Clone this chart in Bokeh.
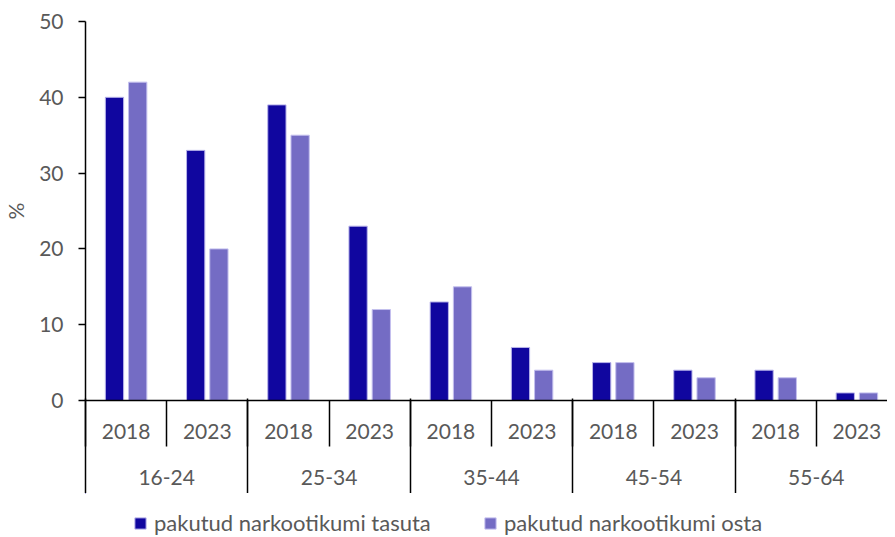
from bokeh.plotting import figure
from bokeh.layouts import column
from bokeh.models import ColumnDataSource, Range1d, FixedTicker, LinearAxis, Legend, LegendItem
from bokeh.transform import dodge
from bokeh.embed import file_html
from bokeh.resources import INLINE

# ---- data ----
age_groups = ["16-24", "25-34", "35-44", "45-54", "55-64"]
years = ["2018", "2023"]
free_offer = [40, 33, 39, 23, 13, 7, 5, 4, 4, 1]   # pakutud narkootikumi tasuta
buy_offer = [42, 20, 35, 12, 15, 4, 5, 3, 3, 1]    # pakutud narkootikumi osta
y_ticks = [0, 10, 20, 30, 40, 50]
series_names = ["pakutud narkootikumi tasuta", "pakutud narkootikumi osta"]

n_years = len(years)
n_slots = len(age_groups) * n_years
slot_x = [i + 0.5 for i in range(n_slots)]
year_labels = [years[i % n_years] for i in range(n_slots)]
group_x = [g * n_years + n_years / 2 for g in range(len(age_groups))]

src = ColumnDataSource(dict(x=slot_x, free=free_offer, buy=buy_offer))

FONT = "Lato"
GREY = "#595959"
DARK = "#10069F"
LIGHT = "#746CC4"
FS = "21px"
BAR_W = 0.225
OFF = 0.143

p = figure(width=887, height=493, output_backend="svg", toolbar_location=None,
           x_range=Range1d(0, 9.877), y_range=Range1d(0, 50),
           x_axis_type=None, min_border_left=83, min_border_right=0,
           min_border_top=21, min_border_bottom=93)
p.outline_line_color = None
p.grid.grid_line_color = None
p.background_fill_color = "white"

r1 = p.vbar(x=dodge("x", -OFF), top="free", width=BAR_W, source=src,
            fill_color=DARK, line_color="#B8B4EA", line_width=1)
r2 = p.vbar(x=dodge("x", OFF), top="buy", width=BAR_W, source=src,
            fill_color=LIGHT, line_color="#C4C0EE", line_width=1)

# y axis
ya = p.yaxis[0]
ya.ticker = FixedTicker(ticks=y_ticks, minor_ticks=[])
ya.axis_line_color = "black"
ya.axis_line_width = 1.5
ya.major_tick_line_color = "black"
ya.major_tick_line_width = 1.5
ya.major_tick_out = 7
ya.major_tick_in = 0
ya.minor_tick_line_color = None
ya.major_label_standoff = 15
ya.major_label_text_font = FONT
ya.major_label_text_font_size = FS
ya.major_label_text_color = GREY
ya.axis_label = "%"
ya.axis_label_text_font = FONT
ya.axis_label_text_font_size = FS
ya.axis_label_text_font_style = "normal"
ya.axis_label_text_color = GREY
ya.axis_label_standoff = 8

# x axis: years
xa1 = LinearAxis(ticker=FixedTicker(ticks=slot_x, minor_ticks=list(range(n_slots + 1))),
                 major_label_overrides={x: lab for x, lab in zip(slot_x, year_labels)})
xa1.axis_line_color = "black"
xa1.axis_line_width = 1.5
xa1.major_tick_line_color = None
xa1.major_tick_out = 0
xa1.major_tick_in = 0
xa1.minor_tick_line_color = "black"
xa1.minor_tick_line_width = 1.5
xa1.minor_tick_out = 46
xa1.minor_tick_in = 0
xa1.major_label_standoff = -23
xa1.major_label_text_font = FONT
xa1.major_label_text_font_size = FS
xa1.major_label_text_color = GREY
p.add_layout(xa1, "below")

# x axis: age groups
xa2 = LinearAxis(ticker=FixedTicker(ticks=group_x, minor_ticks=list(range(0, n_slots + 1, n_years))),
                 major_label_overrides={x: lab for x, lab in zip(group_x, age_groups)})
xa2.axis_line_color = None
xa2.major_tick_line_color = None
xa2.major_tick_out = 0
xa2.major_tick_in = 0
xa2.minor_tick_line_color = "black"
xa2.minor_tick_line_width = 1.5
xa2.minor_tick_in = 43
xa2.minor_tick_out = 52
xa2.major_label_standoff = -24
xa2.major_label_text_font = FONT
xa2.major_label_text_font_size = FS
xa2.major_label_text_color = GREY
p.add_layout(xa2, "below")

# legend strip (separate figure below the chart; its bars lie outside its ranges)
lg = figure(width=887, height=43, output_backend="svg", toolbar_location=None,
            x_range=Range1d(1000, 1010), y_range=Range1d(-1000, -999),
            x_axis_type=None, y_axis_type=None, min_border=0)
lg.outline_line_color = None
lg.grid.grid_line_color = None
l1 = lg.vbar(x=dodge("x", -OFF), top="free", width=BAR_W, source=src,
             fill_color=DARK, line_color="#B8B4EA", line_width=1)
l2 = lg.vbar(x=dodge("x", OFF), top="buy", width=BAR_W, source=src,
             fill_color=LIGHT, line_color="#C4C0EE", line_width=1)
legend = Legend(items=[LegendItem(label=series_names[0], renderers=[l1]),
                       LegendItem(label=series_names[1], renderers=[l2])],
                orientation="horizontal", location=(48, 0),
                border_line_color=None, background_fill_alpha=0,
                label_text_font=FONT, label_text_font_size="22px", label_text_color=GREY,
                glyph_width=14, glyph_height=14, label_standoff=7, spacing=0,
                label_width=329, padding=0, margin=0)
lg.add_layout(legend)

open("out.html", "w").write(file_html(column(p, lg, spacing=0), INLINE))
